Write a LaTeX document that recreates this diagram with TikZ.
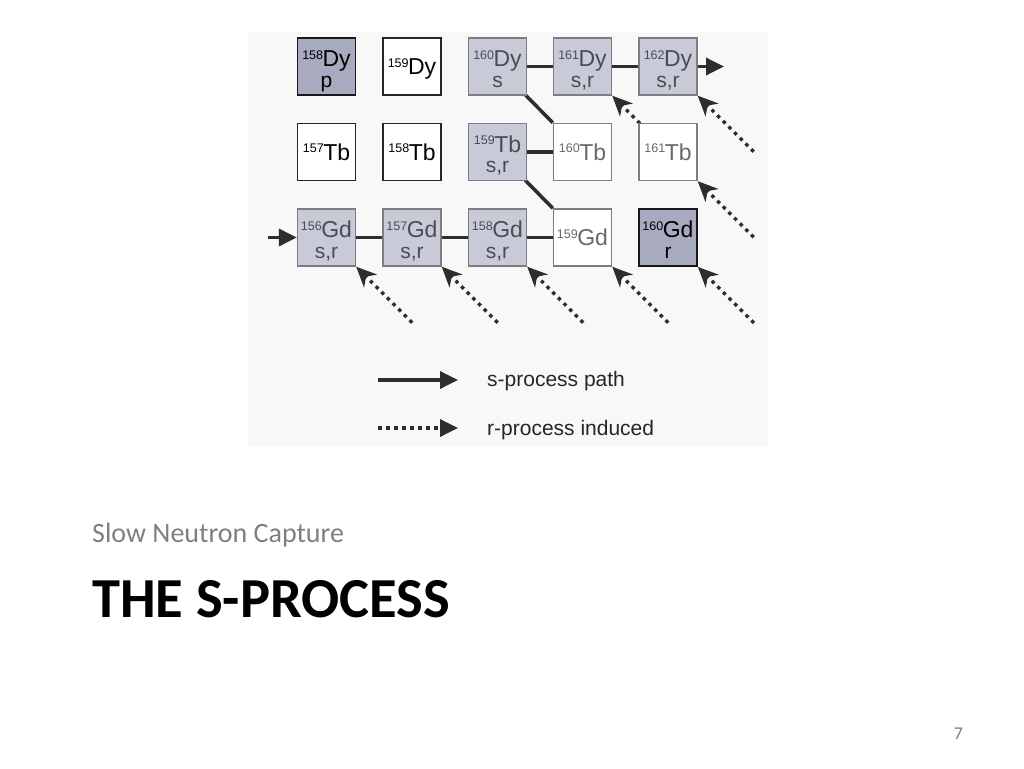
\documentclass[tikz,border=0pt]{standalone}
\usepackage{fontspec}
\setmainfont{Liberation Sans}
\newfontfamily\slidefont{Carlito}
\usetikzlibrary{arrows.meta,calc}
\pgfdeclarelayer{back}
\pgfdeclarelayer{bg}
\pgfsetlayers{back,bg,main}
\definecolor{panel}{RGB}{248,248,248}
\definecolor{lightbox}{RGB}{200,202,216}
\definecolor{darkbox}{RGB}{168,170,192}
\definecolor{boxgray}{RGB}{125,125,128}
\definecolor{linegray}{RGB}{45,45,45}
\definecolor{stext}{RGB}{75,75,85}
\definecolor{gtext}{RGB}{105,105,105}
\definecolor{slidegray}{RGB}{127,127,127}
\newcommand{\isoname}[2]{\raisebox{7.2pt}{\fontsize{12.5}{13}\selectfont #1}\kern-0.5pt#2}
\tikzset{
  box/.style={draw, minimum width=58pt, minimum height=57pt, inner sep=0pt, line width=1.4pt},
  sbox/.style={box, fill=lightbox, draw=boxgray},
  pbox/.style={box, fill=darkbox, draw=black!90, line width=1.8pt},
  wbox/.style={box, fill=white, draw=black!85, line width=1.6pt},
  gbox/.style={box, fill=white, draw=boxgray},
  elabel/.style={anchor=base, inner sep=0pt, font=\fontsize{23}{23}\selectfont},
  slabel/.style={anchor=base, inner sep=0pt, font=\fontsize{21}{21}\selectfont},
  spath/.style={line width=3.5pt, draw=linegray},
  sarrow/.style={spath, -{Triangle[length=18pt,width=17pt]}},
  rarrow/.style={line width=3.5pt, draw=linegray, dash pattern=on 3.5pt off 4.5pt, -{Stealth[length=20pt,width=18pt,inset=6pt]}},
  rlegarrow/.style={line width=3.5pt, draw=linegray, dash pattern=on 3.5pt off 4.5pt, -{Triangle[length=18pt,width=17pt]}},
  legtext/.style={anchor=base west, inner sep=0pt, font=\fontsize{21}{21}\selectfont, text=black!85}
}
\begin{document}
\begin{tikzpicture}[x=1pt,y=-1pt]
\useasboundingbox (0,0) rectangle (1024,768);
\begin{pgfonlayer}{back}
\fill[panel] (248,32) rectangle (768,447);
\end{pgfonlayer}

% row 1: Dy
\node[pbox] (b158Dy) at (326.5,66.5) {};
\node[wbox] (b159Dy) at (412,66.5) {};
\node[sbox] (b160Dy) at (497.5,66.5) {};
\node[sbox] (b161Dy) at (582.5,66.5) {};
\node[sbox] (b162Dy) at (668,66.5) {};
% row 2: Tb
\node[wbox] (b157Tb) at (326.5,152) {};
\node[wbox] (b158Tb) at (412,152) {};
\node[sbox] (b159Tb) at (497.5,152) {};
\node[gbox] (b160Tb) at (582.5,152) {};
\node[gbox] (b161Tb) at (668,152) {};
% row 3: Gd
\node[sbox] (b156Gd) at (326.5,237.5) {};
\node[sbox] (b157Gd) at (412,237.5) {};
\node[sbox] (b158Gd) at (497.5,237.5) {};
\node[gbox] (b159Gd) at (582.5,237.5) {};
\node[pbox] (b160Gd) at (668,237.5) {};

% labels
\node[elabel] (l158Dy) at ($(b158Dy.center)+(0,0)$) {\isoname{158}{Dy}};
\node[slabel] (s158Dy) at ($(b158Dy.center)+(0,20.5)$) {p};
\node[elabel] (l159Dy) at ($(b159Dy.center)+(0,8)$) {\isoname{159}{Dy}};
\node[elabel, text=stext] (l160Dy) at ($(b160Dy.center)+(0,0)$) {\isoname{160}{Dy}};
\node[slabel, text=stext] (s160Dy) at ($(b160Dy.center)+(0,20.5)$) {s};
\node[elabel, text=stext] (l161Dy) at ($(b161Dy.center)+(0,0)$) {\isoname{161}{Dy}};
\node[slabel, text=stext] (s161Dy) at ($(b161Dy.center)+(0,20.5)$) {s,r};
\node[elabel, text=stext] (l162Dy) at ($(b162Dy.center)+(0,0)$) {\isoname{162}{Dy}};
\node[slabel, text=stext] (s162Dy) at ($(b162Dy.center)+(0,20.5)$) {s,r};

\node[elabel] (l157Tb) at ($(b157Tb.center)+(0,8)$) {\isoname{157}{Tb}};
\node[elabel] (l158Tb) at ($(b158Tb.center)+(0,8)$) {\isoname{158}{Tb}};
\node[elabel, text=stext] (l159Tb) at ($(b159Tb.center)+(0,0)$) {\isoname{159}{Tb}};
\node[slabel, text=stext] (s159Tb) at ($(b159Tb.center)+(0,20.5)$) {s,r};
\node[elabel, text=gtext] (l160Tb) at ($(b160Tb.center)+(0,8)$) {\isoname{160}{Tb}};
\node[elabel, text=gtext] (l161Tb) at ($(b161Tb.center)+(0,8)$) {\isoname{161}{Tb}};

\node[elabel, text=stext] (l156Gd) at ($(b156Gd.center)+(0,0)$) {\isoname{156}{Gd}};
\node[slabel, text=stext] (s156Gd) at ($(b156Gd.center)+(0,20.5)$) {s,r};
\node[elabel, text=stext] (l157Gd) at ($(b157Gd.center)+(0,0)$) {\isoname{157}{Gd}};
\node[slabel, text=stext] (s157Gd) at ($(b157Gd.center)+(0,20.5)$) {s,r};
\node[elabel, text=stext] (l158Gd) at ($(b158Gd.center)+(0,0)$) {\isoname{158}{Gd}};
\node[slabel, text=stext] (s158Gd) at ($(b158Gd.center)+(0,20.5)$) {s,r};
\node[elabel, text=gtext] (l159Gd) at ($(b159Gd.center)+(0,8)$) {\isoname{159}{Gd}};
\node[elabel] (l160Gd) at ($(b160Gd.center)+(0,0)$) {\isoname{160}{Gd}};
\node[slabel] (s160Gd) at ($(b160Gd.center)+(0,20.5)$) {r};

% free ends
\coordinate (outDy) at (724,66.5);
\coordinate (inGd) at (268,237.5);
\coordinate (t161Dy) at ($(b161Dy.south east)+(56,56)$);
\coordinate (t162Dy) at ($(b162Dy.south east)+(56,56)$);
\coordinate (t161Tb) at ($(b161Tb.south east)+(56,56)$);
\coordinate (t156Gd) at ($(b156Gd.south east)+(56,56)$);
\coordinate (t157Gd) at ($(b157Gd.south east)+(56,56)$);
\coordinate (t158Gd) at ($(b158Gd.south east)+(56,56)$);
\coordinate (t159Gd) at ($(b159Gd.south east)+(56,56)$);
\coordinate (t160Gd) at ($(b160Gd.south east)+(56,56)$);

\begin{pgfonlayer}{bg}
\draw[spath] (b160Dy.center) -- (b161Dy.center);
\draw[spath] (b161Dy.center) -- (b162Dy.center);
\draw[spath] (b160Dy.center) -- (b160Tb.north west);
\draw[spath] (b159Tb.center) -- (b160Tb.center);
\draw[spath] (b159Tb.center) -- (b159Gd.north west);
\draw[spath] (b156Gd.center) -- (b157Gd.center);
\draw[spath] (b157Gd.center) -- (b158Gd.center);
\draw[spath] (b158Gd.center) -- (b159Gd.center);
\draw[rarrow] (t161Dy) -- (b161Dy.south east);
\end{pgfonlayer}

\draw[sarrow] (b162Dy.east) -- (outDy);
\draw[sarrow] (inGd) -- (b156Gd.west);
\draw[rarrow] (t162Dy) -- (b162Dy.south east);
\draw[rarrow] (t161Tb) -- (b161Tb.south east);
\draw[rarrow] (t156Gd) -- (b156Gd.south east);
\draw[rarrow] (t157Gd) -- (b157Gd.south east);
\draw[rarrow] (t158Gd) -- (b158Gd.south east);
\draw[rarrow] (t159Gd) -- (b159Gd.south east);
\draw[rarrow] (t160Gd) -- (b160Gd.south east);

% legend
\coordinate (ls1) at (378,380);
\coordinate (ls2) at (458,380);
\coordinate (lr1) at (378,428);
\coordinate (lr2) at (458,428);
\draw[sarrow] (ls1) -- (ls2);
\draw[rlegarrow] (lr1) -- (lr2);
\node[legtext] (legs) at (487,386) {s-process path};
\node[legtext] (legr) at (487,435) {r-process induced};

% slide text
\node[anchor=base west, inner sep=0pt, text=slidegray, font=\slidefont\fontsize{28}{28}\selectfont] (subtitle) at (92,542) {Slow Neutron Capture};
\node[anchor=base west, inner sep=0pt, text=black, font=\slidefont\bfseries\fontsize{56.5}{56.5}\selectfont] (title) at (92,617) {THE S-PROCESS};
\node[anchor=base, inner sep=0pt, text=slidegray, font=\slidefont\fontsize{18}{18}\selectfont] (pagenum) at (958.5,739) {7};
\end{tikzpicture}
\end{document}
